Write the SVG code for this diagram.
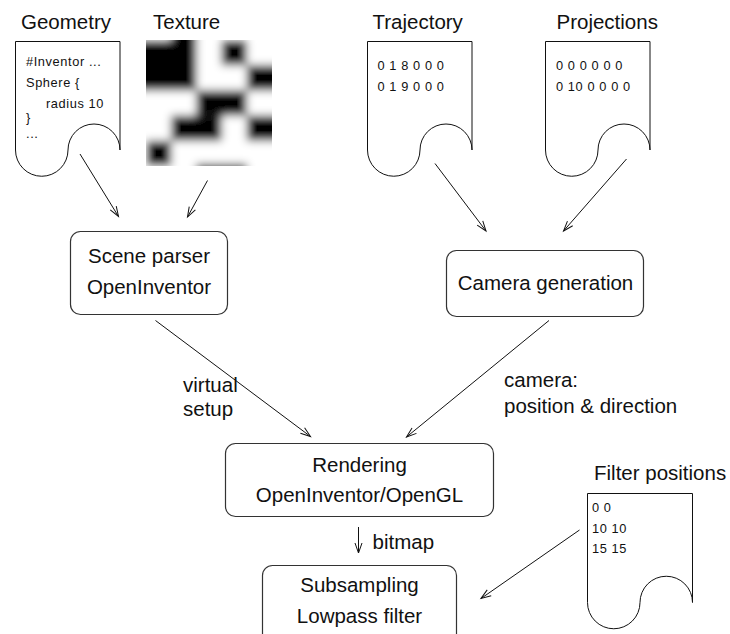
<svg xmlns="http://www.w3.org/2000/svg" width="730" height="634" viewBox="0 0 730 634">
  <style>
    text { font-family: "Liberation Sans", Arial, sans-serif; fill: #111; }
    .t { font-size: 20.5px; }
    .c { text-anchor: middle; }
    .s { font-size: 12.8px; letter-spacing: 0.6px; }
    .doc { fill: #fff; stroke: #111; stroke-width: 1; }
    .box { fill: #fff; stroke: #333; stroke-width: 1.2; }
    .edge { fill: none; stroke: #111; stroke-width: 1; marker-end: url(#arrow); }
  </style>
  <defs>
    <marker id="arrow" markerUnits="userSpaceOnUse" markerWidth="14" markerHeight="10" viewBox="-12 -5 14 10" refX="0" refY="0" orient="auto">
      <path d="M-10,-3.5 L0,0 L-10,3.5" fill="none" stroke="#111" stroke-width="1"/>
    </marker>
    <clipPath id="texClip">
      <rect x="146" y="40" width="126" height="126"/>
    </clipPath>
    <filter id="soft" filterUnits="userSpaceOnUse" x="100" y="0" width="220" height="210">
      <feGaussianBlur stdDeviation="4"/>
    </filter>
  </defs>

  <!-- input: geometry file -->
  <g id="geometry">
    <text class="t" x="21" y="28.5">Geometry</text>
    <path class="doc" d="M120,150 V41.5 H15.5 V150 A26.25,26.25 0 0 0 68,150 A26,26 0 0 1 120,150 Z"/>
    <text class="s" x="26" y="66">#Inventor ...</text>
    <text class="s" x="26" y="87">Sphere {</text>
    <text class="s" x="46" y="107.5">radius 10</text>
    <text class="s" x="26" y="122">}</text>
    <text class="s" x="26" y="137.5">...</text>
  </g>

  <!-- input: texture bitmap (5x5 cells, smoothed) -->
  <g id="texture">
    <text class="t" x="153" y="28.5">Texture</text>
    <g clip-path="url(#texClip)">
      <rect x="146" y="40" width="126" height="126" fill="#fff"/>
      <g filter="url(#soft)">
        <rect x="110" y="10" width="200" height="190" fill="#fff"/>
        <g fill="#000">
          <rect x="120.8" y="40" width="25.2" height="50.4"/>
          <rect x="171.2" y="14.8" width="25.2" height="25.2"/>
          <rect x="146" y="40" width="50.4" height="50.4"/>
          <rect x="221.6" y="40" width="25.2" height="25.2"/>
          <rect x="246.8" y="65.2" width="50.4" height="25.2"/>
          <rect x="196.4" y="90.4" width="50.4" height="25.2"/>
          <rect x="171.2" y="115.6" width="50.4" height="25.2"/>
          <rect x="246.8" y="115.6" width="50.4" height="25.2"/>
          <rect x="146" y="140.8" width="25.2" height="25.2"/>
          <rect x="196.4" y="164" width="50.4" height="25.2"/>
        </g>
      </g>
    </g>
  </g>

  <!-- input: camera trajectory -->
  <g id="trajectory">
    <text class="t" x="372.5" y="28.5">Trajectory</text>
    <path class="doc" d="M472,150 V41.5 H367.5 V150 A26.25,26.25 0 0 0 420,150 A26,26 0 0 1 472,150 Z"/>
    <text class="s" x="377.5" y="70">0 1 8 0 0 0</text>
    <text class="s" x="377.5" y="91">0 1 9 0 0 0</text>
  </g>

  <!-- input: projections -->
  <g id="projections">
    <text class="t" x="556.5" y="28.5">Projections</text>
    <path class="doc" d="M650,150 V41.5 H545.5 V150 A26.25,26.25 0 0 0 598,150 A26,26 0 0 1 650,150 Z"/>
    <text class="s" x="556" y="70">0 0 0 0 0 0</text>
    <text class="s" x="556" y="91">0 10 0 0 0 0</text>
  </g>

  <!-- input: filter positions -->
  <g id="filter-positions">
    <text class="t" x="594" y="479.5">Filter positions</text>
    <path class="doc" d="M692.5,602.5 V493.5 H587.5 V602.5 A26.25,26.25 0 0 0 640,602.5 A26.25,26.25 0 0 1 692.5,602.5 Z"/>
    <text class="s" x="592" y="511.5">0 0</text>
    <text class="s" x="592" y="532.5">10 10</text>
    <text class="s" x="592" y="553">15 15</text>
  </g>

  <!-- processing stages -->
  <g id="scene-parser">
    <rect class="box" x="70.5" y="231.5" width="157" height="83" rx="10"/>
    <text class="t c" x="149" y="263">Scene parser</text>
    <text class="t c" x="149" y="294">OpenInventor</text>
  </g>

  <g id="camera-generation">
    <rect class="box" x="446.5" y="250.5" width="197" height="66" rx="10"/>
    <text class="t c" x="545.5" y="289.5">Camera generation</text>
  </g>

  <g id="rendering">
    <rect class="box" x="225.5" y="443.5" width="268" height="73" rx="10"/>
    <text class="t c" x="359.5" y="472">Rendering</text>
    <text class="t c" x="359.5" y="502">OpenInventor/OpenGL</text>
  </g>

  <g id="subsampling">
    <rect class="box" x="262.5" y="565.5" width="194" height="100" rx="10"/>
    <text class="t c" x="359.5" y="592">Subsampling</text>
    <text class="t c" x="359.5" y="623">Lowpass filter</text>
  </g>

  <!-- data flow -->
  <g id="connectors">
    <path class="edge" d="M80,154 L118.5,216.5"/>
    <path class="edge" d="M207.5,180.5 L187.5,217"/>
    <path class="edge" d="M435,163.5 L486,231"/>
    <path class="edge" d="M626.5,159 L563.5,231"/>
    <path class="edge" d="M155.5,320.5 L310.5,436.5"/>
    <path class="edge" d="M549,320.5 L406.5,437"/>
    <path class="edge" d="M358.5,527 L358.5,553"/>
    <path class="edge" d="M579.5,530 L481,598.5"/>
    <text class="t" x="183" y="392">virtual</text>
    <text class="t" x="183" y="416">setup</text>
    <text class="t" x="504" y="387">camera:</text>
    <text class="t" x="504" y="412.5">position &amp; direction</text>
    <text class="t" x="372.5" y="548.5">bitmap</text>
  </g>
</svg>
